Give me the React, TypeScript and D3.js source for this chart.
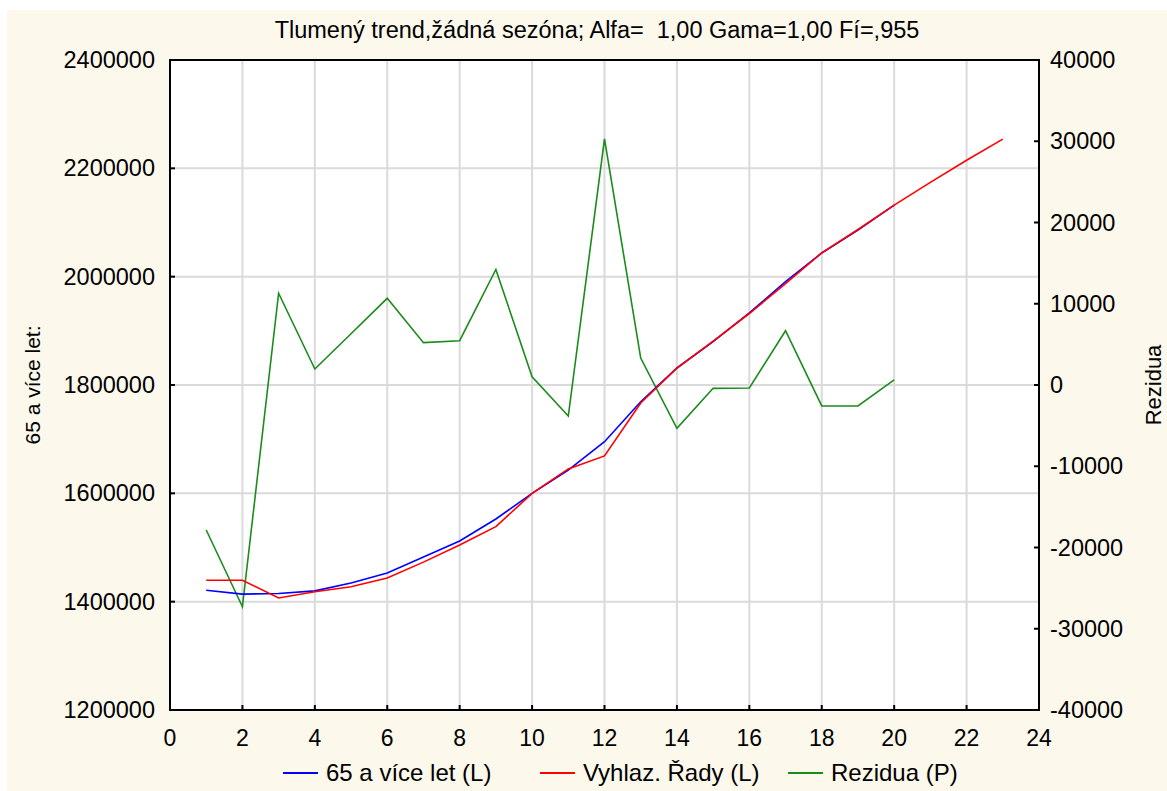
import * as d3 from "d3";

const periods = [1, 2, 3, 4, 5, 6, 7, 8, 9, 10, 11, 12, 13, 14, 15, 16, 17, 18, 19, 20];
const observed = [
  1421000, 1414000, 1415000, 1420000, 1434500, 1453000, 1482500, 1512000, 1552600, 1600000,
  1643000, 1695300, 1769000, 1831400, 1880000, 1933000, 1990700, 2043700, 2086000, 2132000,
];
const smoothedPeriods = [1, 2, 3, 4, 5, 6, 7, 8, 9, 10, 11, 12, 13, 14, 15, 16, 17, 18, 19, 20, 21, 22, 23];
const smoothed = [
  1439500, 1439500, 1406800, 1418400, 1427600, 1443700, 1473000, 1504600, 1538400, 1600000,
  1645000, 1669000, 1766800, 1831000, 1881000, 1932000, 1987000, 2044000, 2087000, 2132000,
  2174000, 2215000, 2254000,
];
const residuals = [
  -17850, -27290, 11290, 1970, 6310, 10670, 5210, 5450, 14220, 1020,
  -3820, 30280, 3320, -5330, -410, -370, 6680, -2580, -2580, 620,
];

const xTicks = [0, 2, 4, 6, 8, 10, 12, 14, 16, 18, 20, 22, 24];
const leftTicks = [1200000, 1400000, 1600000, 1800000, 2000000, 2200000, 2400000];
const rightTicks = [-40000, -30000, -20000, -10000, 0, 10000, 20000, 30000, 40000];

const legendItems = [
  { label: "65 a více let (L)", color: "#0000ff", x: 283 },
  { label: "Vyhlaz. Řady (L)", color: "#ff0000", x: 540 },
  { label: "Rezidua (P)", color: "#1a8c1a", x: 788 },
];

const W = 1167;
const H = 791;
const plot = { left: 170, right: 1039, top: 60, bottom: 710 };
const font = "'Liberation Sans', Arial, sans-serif";

export default function App() {
  const x = d3.scaleLinear().domain([0, 24]).range([plot.left, plot.right]);
  const yL = d3.scaleLinear().domain([1200000, 2400000]).range([plot.bottom, plot.top]);
  const yR = d3.scaleLinear().domain([-40000, 40000]).range([plot.bottom, plot.top]);

  const lineL = d3
    .line<[number, number]>()
    .x((d) => x(d[0]))
    .y((d) => yL(d[1]));
  const lineR = d3
    .line<[number, number]>()
    .x((d) => x(d[0]))
    .y((d) => yR(d[1]));

  const obsPts = periods.map((p, i) => [p, observed[i]] as [number, number]);
  const smPts = smoothedPeriods.map((p, i) => [p, smoothed[i]] as [number, number]);
  const resPts = periods.map((p, i) => [p, residuals[i]] as [number, number]);

  return (
    <svg
      width={W}
      height={H}
      style={{ position: "absolute", left: 0, top: 0 }}
      fontFamily={font}
    >
      <rect x={0} y={0} width={W} height={H} fill="#ffffff" />
      <rect x={7} y={10} width={W - 7} height={H - 10} fill="#fdf8ec" />
      <rect
        x={plot.left}
        y={plot.top}
        width={plot.right - plot.left}
        height={plot.bottom - plot.top}
        fill="#ffffff"
      />

      {/* grid */}
      {xTicks.slice(1, -1).map((t) => (
        <line key={"gx" + t} x1={x(t)} x2={x(t)} y1={plot.top} y2={plot.bottom} stroke="#dadada" strokeWidth={2} />
      ))}
      {leftTicks.slice(1, -1).map((t) => (
        <line key={"gy" + t} x1={plot.left} x2={plot.right} y1={yL(t)} y2={yL(t)} stroke="#dadada" strokeWidth={2} />
      ))}

      {/* series */}
      <path d={lineR(resPts) ?? ""} fill="none" stroke="#1a8c1a" strokeWidth={1.6} />
      <path d={lineL(obsPts) ?? ""} fill="none" stroke="#0000ff" strokeWidth={1.6} />
      <path d={lineL(smPts) ?? ""} fill="none" stroke="#ff0000" strokeWidth={1.6} />

      {/* ticks */}
      {xTicks.map((t) => (
        <line key={"tx" + t} x1={x(t)} x2={x(t)} y1={plot.bottom} y2={plot.bottom - 5} stroke="#000" strokeWidth={2} />
      ))}
      {leftTicks.map((t) => (
        <line key={"tl" + t} x1={plot.left} x2={plot.left + 5} y1={yL(t)} y2={yL(t)} stroke="#000" strokeWidth={2} />
      ))}
      {rightTicks.map((t) => (
        <line key={"tr" + t} x1={plot.right} x2={plot.right - 5} y1={yR(t)} y2={yR(t)} stroke="#000" strokeWidth={2} />
      ))}

      <rect
        x={plot.left}
        y={plot.top}
        width={plot.right - plot.left}
        height={plot.bottom - plot.top}
        fill="none"
        stroke="#000"
        strokeWidth={2}
      />

      {/* tick labels */}
      {xTicks.map((t) => (
        <text key={"lx" + t} x={x(t)} y={plot.bottom + 36} textAnchor="middle" fontSize={23} fill="#000">
          {t}
        </text>
      ))}
      {leftTicks.map((t) => (
        <text key={"ll" + t} x={155} y={yL(t) + 8} textAnchor="end" fontSize={23.5} fill="#000">
          {t}
        </text>
      ))}
      {rightTicks.map((t) => (
        <text key={"lr" + t} x={1050} y={yR(t) + 8} textAnchor="start" fontSize={23.5} fill="#000">
          {t}
        </text>
      ))}

      {/* titles */}
      <text
        x={597}
        y={38}
        textAnchor="middle"
        fontSize={23.5}
        fill="#000"
        style={{ whiteSpace: "pre" }}
      >
        {"Tlumený trend,žádná sezóna; Alfa=  1,00 Gama=1,00 Fí=,955"}
      </text>
      <text
        transform={`translate(40,${(plot.top + plot.bottom) / 2}) rotate(-90)`}
        textAnchor="middle"
        fontSize={21}
        fill="#000"
      >
        65 a více let:
      </text>
      <text
        transform={`translate(1161,${(plot.top + plot.bottom) / 2}) rotate(-90)`}
        textAnchor="middle"
        fontSize={22}
        fill="#000"
      >
        Rezidua
      </text>

      {/* legend */}
      {legendItems.map((it) => (
        <g key={it.label}>
          <line x1={it.x} x2={it.x + 35} y1={773} y2={773} stroke={it.color} strokeWidth={2} />
          <text x={it.x + 43} y={781} fontSize={24} fill="#000">
            {it.label}
          </text>
        </g>
      ))}
    </svg>
  );
}
